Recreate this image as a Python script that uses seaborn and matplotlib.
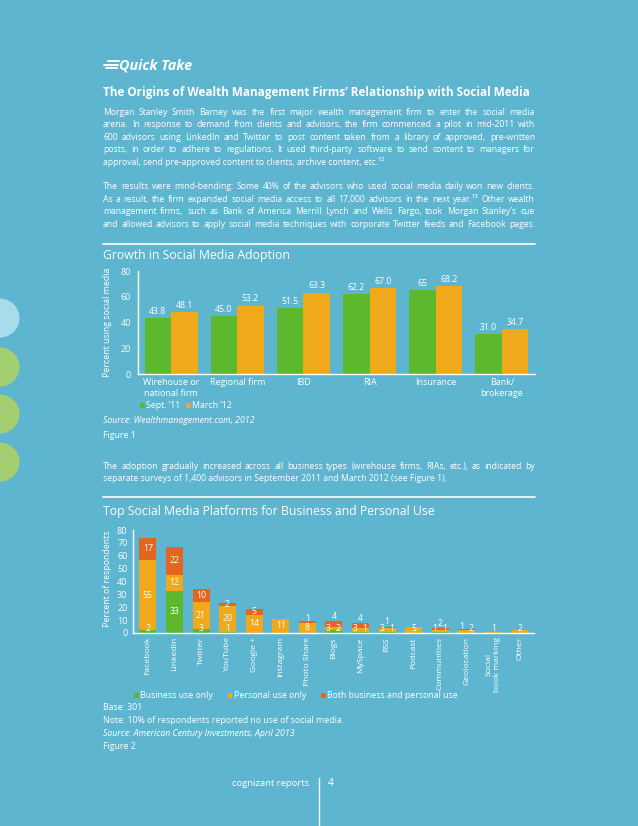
import numpy as np
import pandas as pd
import matplotlib
matplotlib.use("Agg")
import matplotlib.pyplot as plt
import seaborn as sns
from matplotlib.patches import Rectangle, Circle
from matplotlib.lines import Line2D
from matplotlib.transforms import IdentityTransform

# ---------------- data ----------------
segments1 = ["Wirehouse or\nnational firm", "Regional firm", "IBD", "RIA", "Insurance", "Bank/\nbrokerage"]
series1 = ["Sept. \u201911", "March \u201912"]
sept11 = [43.8, 45.0, 51.5, 62.2, 65.0, 31.0]
march12 = [48.1, 53.2, 63.3, 67.0, 68.2, 34.7]
sept11_labels = ["43.8", "45.0", "51.5", "62.2", "65", "31.0"]
march12_labels = ["48.1", "53.2", "63.3", "67.0", "68.2", "34.7"]
yticks1 = [0, 20, 40, 60, 80]

platforms = ["Facebook", "LinkedIn", "Twitter", "YouTube", "Google +", "Instagram", "Photo Share",
             "Blogs", "MySpace", "RSS", "Podcast", "Communities", "Geolocation",
             "Social\nbook marking", "Other"]
business = [2, 33, 3, 1, 0, 0, 0, 2, 1, 1, 0, 1, 0, 0, 0]
personal = [55, 12, 21, 20, 14, 11, 8, 3, 3, 3, 5, 1, 2, 1, 2]
both = [17, 22, 10, 2, 5, 0, 1, 4, 4, 1, 0, 2, 1, 0, 0]
series2 = ["Business use only", "Personal use only", "Both business and personal use"]
yticks2 = [0, 10, 20, 30, 40, 50, 60, 70, 80]

para1 = [
    "Morgan Stanley Smith Barney was the first major wealth management firm to enter the social media",
    "arena. In response to demand from clients and advisors, the firm commenced a pilot in mid-2011 with",
    "600 advisors using LinkedIn and Twitter to post content taken from a library of approved, pre-written",
    "posts, in order to adhere to regulations. It used third-party software to send content to managers for",
    "approval, send pre-approved content to clients, archive content, etc.\u00b9\u00b2",
]
para2 = [
    "The results were mind-bending: Some 40% of the advisors who used social media daily won new clients.",
    "As a result, the firm expanded social media access to all 17,000 advisors in the next year.\u00b9\u00b3 Other wealth",
    "management firms, such as Bank of America Merrill Lynch and Wells Fargo, took Morgan Stanley\u2019s cue",
    "and allowed advisors to apply social media techniques with corporate Twitter feeds and Facebook pages.",
]
para3 = [
    "The adoption gradually increased across all business types (wirehouse firms, RIAs, etc.), as indicated by",
    "separate surveys of 1,400 advisors in September 2011 and March 2012 (see Figure 1).",
]

# ---------------- style ----------------
W, H = 638, 826
BG = "#5EB5D0"
GREEN = "#5DB82E"
YELLOW = "#EFA91B"
DARK = "#E2661D"

sns.set_theme(style="white")
plt.rcParams["font.family"] = ["Open Sans", "DejaVu Sans"]

fig = plt.figure(figsize=(W / 100, H / 100), dpi=100, facecolor=BG)
renderer = fig.canvas.get_renderer()


def text_px(x, y, s, size, **kw):
    kw.setdefault("color", "white")
    return fig.text(x / W, 1 - y / H, s, fontsize=size, **kw)


def width_px(s, size, **kw):
    t = fig.text(0, 0, s, fontsize=size, **kw)
    w = t.get_window_extent(renderer).width
    t.remove()
    return w


def fit_size(s, target, **kw):
    return 10 * target / width_px(s, 10, **kw)


def hline(x0, x1, y, lw=1.2):
    fig.add_artist(Line2D([x0 / W, x1 / W], [1 - y / H, 1 - y / H], color="white", lw=lw))


def paragraph(lines, y0, step, size, x0=103, x1=535):
    for i, line in enumerate(lines):
        y = y0 + i * step
        natural = width_px(line, size)
        if natural < 0.9 * (x1 - x0):
            text_px(x0, y, line, size, va="baseline")
            continue
        words = line.split()
        ws = [width_px(w, size) for w in words]
        gap = (x1 - x0 - sum(ws)) / (len(words) - 1)
        x = x0
        for w, wd in zip(words, ws):
            text_px(x, y, w, size, va="baseline")
            x += wd + gap


# decorative circles on the left edge
for cy, col in [(318, "#A9DCEA"), (367, "#A3CF70"), (414, "#A3CF70"), (462, "#A3CF70")]:
    fig.add_artist(Circle((0, H - cy), 19.5, color=col, transform=IdentityTransform(), lw=0))

# ---------------- header text ----------------
for yy, xa, xb in [(61, 108, 119), (64.5, 104, 118), (68, 106, 117)]:
    fig.add_artist(Line2D([xa / W, xb / W], [1 - yy / H] * 2, color="white", lw=1.4))
qs = fit_size("Quick Take", 73, fontweight="bold", style="italic")
text_px(119, 69, "Quick Take", qs, va="baseline", fontweight="bold", style="italic")

title = "The Origins of Wealth Management Firms\u2019 Relationship with Social Media"
ts = fit_size(title, 430, fontweight="bold")
text_px(103, 96, title, ts, va="baseline", fontweight="bold")

psize = 0.975 * min(fit_size(l, 432) for l in para1[:-1] + para2 + para3[:-1])
step = 12.4
paragraph(para1, 115, step, psize)
paragraph(para2, 115 + 6 * step, step, psize)

hline(103, 535, 244)
gs = fit_size("Growth in Social Media Adoption", 187)
text_px(103, 259, "Growth in Social Media Adoption", gs, va="baseline")

# ---------------- chart 1 ----------------
ax1 = fig.add_axes([138 / W, 1 - 374 / H, 397 / W, 103 / H])
ax1.set_facecolor("none")
df1 = pd.DataFrame({
    "segment": segments1 * 2,
    "series": [series1[0]] * len(segments1) + [series1[1]] * len(segments1),
    "value": sept11 + march12,
})
sns.barplot(data=df1, x="segment", y="value", hue="series", palette=[GREEN, YELLOW],
            width=0.8, saturation=1, gap=0, ax=ax1, legend=False, linewidth=0)
for cont, labs in zip(ax1.containers, [sept11_labels, march12_labels]):
    ax1.bar_label(cont, labels=labs, padding=1.5, color="white", fontsize=6.3)
ax1.set_xlim(-0.5, len(segments1) - 0.5)
ax1.set_ylim(0, 80)
ax1.set_yticks(yticks1)
ax1.set_xlabel("")
ax1.set_ylabel("Percent using social media", color="white", fontsize=6.3)
ax1.yaxis.set_label_coords(-0.066, 0.5)
ax1.tick_params(axis="both", colors="white", length=0, labelsize=6.5)
ax1.tick_params(axis="y", pad=5)
ax1.tick_params(axis="x", pad=3)
for s in ["top", "right"]:
    ax1.spines[s].set_visible(False)
for s in ["left", "bottom"]:
    ax1.spines[s].set_color("white")
    ax1.spines[s].set_linewidth(1.0)

# legend chart 1
for (sx, tx), col, lab in zip([(140, 146), (186, 192)], [GREEN, YELLOW], series1):
    fig.add_artist(Rectangle((sx / W, 1 - 407.5 / H), 4.5 / W, 4.5 / H, color=col, lw=0))
    text_px(tx, 405, lab, 6.3, va="center")

text_px(103, 423, "Source: Wealthmanagement.com, 2012", 6.3, va="baseline", style="italic")
text_px(103, 438, "Figure 1", 6.3, va="baseline")

paragraph(para3, 469, step, psize)

hline(103, 535, 497)
text_px(103, 515, "Top Social Media Platforms for Business and Personal Use", gs, va="baseline")

# ---------------- chart 2 ----------------
ax2 = fig.add_axes([133 / W, 1 - 633 / H, 401 / W, 103 / H])
ax2.set_facecolor("none")
df2 = pd.DataFrame({"platform": platforms, "business": business,
                    "personal": personal, "both": both})
df2["bp"] = df2["business"] + df2["personal"]
df2["total"] = df2["bp"] + df2["both"]
for col, colr in [("total", DARK), ("bp", YELLOW), ("business", GREEN)]:
    sns.barplot(data=df2, x="platform", y=col, color=colr, width=0.64, saturation=1,
                ax=ax2, linewidth=0)

lab_kw = dict(color="white", fontsize=6.3, ha="center", va="center")
for i in range(len(platforms)):
    b, p, h = business[i], personal[i], both[i]
    tot = b + p + h
    if tot >= 10:
        for val, lo in [(b, 0), (p, b), (h, b + p)]:
            if val > 0:
                ax2.text(i, max(lo + val / 2, 3.6), str(val), **lab_kw)
    else:
        if b > 0:
            ax2.text(i - 0.2, 3.6, str(p), **lab_kw)
            ax2.text(i + 0.17, 3.4, str(b), **lab_kw)
            if h > 0:
                ax2.text(i, tot + 3.6, str(h), **lab_kw)
        elif h > 0 and p >= 5:
            ax2.text(i, max(p / 2, 3.6), str(p), **lab_kw)
            ax2.text(i, tot + 2.5, str(h), **lab_kw)
        elif h > 0:
            ax2.text(i - 0.2, tot + 2.2, str(h), **lab_kw)
            ax2.text(i + 0.17, 3.4, str(p), **lab_kw)
        else:
            ax2.text(i, max(tot / 2, 3.4), str(p), **lab_kw)

ax2.set_xlim(-0.56, len(platforms) - 0.47)
ax2.set_ylim(0, 80)
ax2.set_yticks(yticks2)
ax2.set_xlabel("")
ax2.set_ylabel("Percent of respondents", color="white", fontsize=6.3)
ax2.yaxis.set_label_coords(-0.052, 0.53)
ax2.tick_params(axis="both", colors="white", length=0)
ax2.tick_params(axis="y", pad=4, labelsize=6.5)
ax2.tick_params(axis="x", pad=3, rotation=90, labelsize=6.1)
for s in ["top", "right"]:
    ax2.spines[s].set_visible(False)
for s in ["left", "bottom"]:
    ax2.spines[s].set_color("white")
    ax2.spines[s].set_linewidth(1.0)

# legend chart 2
for (sx, tx), col, lab in zip([(134, 140), (228, 234), (321, 327)], [GREEN, YELLOW, DARK], series2):
    fig.add_artist(Rectangle((sx / W, 1 - 697.5 / H), 4.5 / W, 4.5 / H, color=col, lw=0))
    text_px(tx, 695, lab, 6.3, va="center")

text_px(103, 710, "Base: 301", 6.3, va="baseline")
text_px(103, 723, "Note: 10% of respondents reported no use of social media.", 6.3, va="baseline")
text_px(103, 736, "Source: American Century Investments, April 2013", 6.3, va="baseline", style="italic")
text_px(103, 749, "Figure 2", 6.3, va="baseline")

# footer
text_px(309, 786, "cognizant reports", 6.8, va="baseline", ha="right")
fig.add_artist(Line2D([319 / W, 319 / W], [1 - 778 / H, 0], color="white", lw=1))
text_px(328, 786, "4", 7.5, va="baseline")

fig.savefig("out.png", dpi=100, facecolor=BG)
